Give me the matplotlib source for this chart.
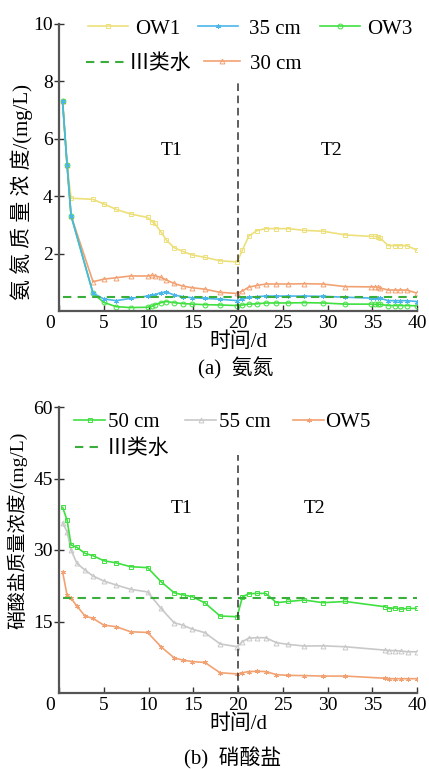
import matplotlib
matplotlib.use("Agg")
import matplotlib.pyplot as plt
import matplotlib.transforms as mtransforms

plt.rcParams['font.family'] = ['Liberation Serif', 'Noto Sans CJK SC', 'DejaVu Sans']
plt.rcParams['axes.unicode_minus'] = False

# ---------------- data (a) ammonia nitrogen ----------------
t_a = [0.4, 0.9, 1.35, 3.8, 5.0, 6.4, 8.0, 9.9, 10.4, 10.7, 11.4, 12.0, 12.85, 13.8,
       14.9, 16.3, 18.0, 19.9, 20.5, 21.2, 22.1, 23.1, 24.2, 25.6, 27.4, 29.5, 32.0,
       34.9, 35.3, 35.6, 35.9, 36.8, 37.5, 38.1, 38.85, 40.0]
ow1 = [7.3, 5.1, 3.93, 3.89, 3.73, 3.54, 3.38, 3.26, 3.11, 3.05, 2.75, 2.47, 2.21, 2.08,
       1.95, 1.87, 1.75, 1.71, 2.13, 2.61, 2.80, 2.87, 2.87, 2.87, 2.81, 2.78, 2.65,
       2.60, 2.60, 2.58, 2.53, 2.28, 2.28, 2.28, 2.28, 2.12]
cm35 = [7.3, 5.1, 3.32, 0.62, 0.42, 0.36, 0.44, 0.52, 0.56, 0.57, 0.64, 0.66, 0.56, 0.50,
        0.46, 0.44, 0.41, 0.36, 0.41, 0.48, 0.50, 0.52, 0.52, 0.52, 0.52, 0.51, 0.48,
        0.45, 0.44, 0.44, 0.44, 0.36, 0.36, 0.36, 0.36, 0.33]
ow3 = [7.3, 5.1, 3.32, 0.62, 0.30, 0.15, 0.12, 0.13, 0.17, 0.22, 0.29, 0.33, 0.29, 0.26,
       0.24, 0.22, 0.21, 0.19, 0.21, 0.24, 0.25, 0.28, 0.28, 0.28, 0.29, 0.28, 0.24,
       0.24, 0.23, 0.23, 0.23, 0.19, 0.19, 0.19, 0.19, 0.18]
cm30 = [7.3, 5.1, 3.32, 1.02, 1.11, 1.16, 1.22, 1.22, 1.24, 1.23, 1.17, 1.08, 0.96, 0.87,
        0.81, 0.76, 0.65, 0.61, 0.70, 0.83, 0.89, 0.94, 0.94, 0.94, 0.95, 0.94, 0.85,
        0.84, 0.84, 0.83, 0.80, 0.73, 0.73, 0.73, 0.73, 0.62]
std_a = 0.5

# ---------------- data (b) nitrate ----------------
t_b = [0.4, 0.9, 1.35, 2.0, 2.9, 3.8, 5.0, 6.4, 8.0, 9.9, 11.4, 12.85, 13.8, 14.9, 16.3,
       18.0, 19.9, 20.5, 21.2, 22.1, 23.1, 24.3, 25.6, 27.4, 29.5, 32.0, 36.4, 36.9,
       37.5, 38.2, 38.95, 40.0]
cm50 = [38.95, 36.3, 31.05, 30.56, 29.3, 28.8, 27.75, 27.3, 26.5, 26.3, 23.35, 21.05,
        20.6, 20.2, 18.9, 16.15, 16.0, 20.2, 20.8, 20.9, 20.9, 18.95, 19.2, 19.5, 18.95,
        19.2, 18.1, 17.7, 17.85, 17.6, 17.75, 17.75]
cm55 = [35.7, 33.85, 30.0, 27.2, 25.8, 24.55, 23.5, 22.65, 21.75, 21.2, 17.75, 14.75,
        14.25, 13.4, 12.65, 10.3, 9.7, 10.8, 11.5, 11.6, 11.6, 10.55, 10.2, 9.85, 9.9,
        9.7, 9.0, 8.9, 8.9, 8.8, 8.65, 8.65]
ow5 = [25.45, 20.55, 19.85, 18.25, 16.15, 15.65, 14.25, 13.9, 12.85, 12.7, 9.7, 7.4,
       6.9, 6.6, 6.4, 4.25, 4.0, 4.25, 4.5, 4.55, 4.5, 3.85, 3.7, 3.65, 3.55, 3.55, 3.1,
       3.0, 3.0, 3.0, 3.0, 3.0]
std_b = 20.0

xticks = [0, 5, 10, 15, 20, 25, 30, 35, 40]
yticks_a = [2, 4, 6, 8, 10]
yticks_b = [15, 30, 45, 60]

C_YEL = '#EDE07A'
C_BLU = '#4BB6EA'
C_GRN = '#3FE03F'
C_ORG = '#F2A272'
C_GRY = '#C8C8C8'
C_STD = '#3AAE3A'
AST = (6, 2, 0)

W, H = 429, 769
fig = plt.figure(figsize=(W/100, H/100), dpi=100)
ax1 = fig.add_axes([59/W, 1-311/H, 358/W, 287/H])
ax2 = fig.add_axes([59/W, 1-693/H, 358/W, 286/H])


def style(ax, ymax, yticks):
    ax.set_xlim(0, 40)
    ax.set_ylim(0, ymax)
    for s in ['top', 'right']:
        ax.spines[s].set_visible(False)
    for s in ['left', 'bottom']:
        ax.spines[s].set_color('#555555')
        ax.spines[s].set_linewidth(1.6)
    ax.set_xticks(xticks)
    ax.set_xticklabels([str(v) for v in xticks])
    ax.set_yticks(yticks)
    ax.set_yticklabels([str(v) for v in yticks])
    ax.tick_params(axis='y', direction='inout', length=7, width=1.0, labelsize=14,
                   pad=1, color='#333333')
    ax.tick_params(axis='x', direction='in', length=4, width=1.0, labelsize=14,
                   pad=3, color='#333333')
    lab0 = ax.get_xticklabels()[0]
    lab0.set_transform(lab0.get_transform() +
                       mtransforms.ScaledTranslation(-9/100, 0, fig.dpi_scale_trans))


def leg(handle, label, x_px, y_px, hl, pad):
    fig.legend([handle], [label], loc='center left',
               bbox_to_anchor=(x_px/W, 1-y_px/H), frameon=False, fontsize=15,
               borderpad=0, borderaxespad=0, handlelength=hl, handletextpad=pad,
               numpoints=1)


kw = dict(lw=1.2, ms=3.5, mfc='none', mew=0.7)

# ---- (a)
l_ow1, = ax1.plot(t_a, ow1, color=C_YEL, marker='s', **kw)
l_30, = ax1.plot(t_a, cm30, color=C_ORG, marker='^', **kw)
l_ow3, = ax1.plot(t_a, ow3, color=C_GRN, marker='o', **kw)
l_35, = ax1.plot(t_a, cm35, color=C_BLU, marker=AST, **kw)
l_std, = ax1.plot([t_a[0], 40], [std_a, std_a], color=C_STD, ls=(0, (4, 3)), lw=1.5)
ax1.plot([20, 20], [0, 8], color='#333333', ls=(0, (5, 3)), lw=1.1)
style(ax1, 10, yticks_a)
ax1.text(12.6, 5.6, 'T1', fontsize=14, ha='center', va='center')
ax1.text(30.5, 5.6, 'T2', fontsize=14, ha='center', va='center')
ax1.set_xlabel('时间/d', fontsize=15, labelpad=0)
ax1.set_ylabel('氨 氮 质 量 浓 度/(mg/L)', fontsize=15)
ax1.yaxis.set_label_coords(-0.073, 0.415)

leg(l_ow1, 'OW1', 88, 29, 1.92, 0.34)
leg(l_35, '35 cm', 198, 29, 1.92, 0.55)
leg(l_ow3, 'OW3', 320, 29, 1.92, 0.34)
leg(l_std, 'Ⅲ类水', 86, 64, 1.9, 0.15)
leg(l_30, '30 cm', 204, 64, 1.75, 0.45)
fig.text(236/W, 1-368/H, '(a)  氨氮', fontsize=15, ha='center', va='center')

# ---- (b)
l_ow5, = ax2.plot(t_b, ow5, color=C_ORG, marker=AST, **kw)
l_55, = ax2.plot(t_b, cm55, color=C_GRY, marker='^', **kw)
l_50, = ax2.plot(t_b, cm50, color=C_GRN, marker='s', **kw)
l_std2, = ax2.plot([t_b[0], 40], [std_b, std_b], color=C_STD, ls=(0, (4, 3)), lw=1.5)
ax2.plot([20, 20], [0, 50], color='#333333', ls=(0, (5, 3)), lw=1.1)
style(ax2, 60, yticks_b)
ax2.text(13.7, 38.8, 'T1', fontsize=14, ha='center', va='center')
ax2.text(28.6, 38.8, 'T2', fontsize=14, ha='center', va='center')
ax2.set_xlabel('时间/d', fontsize=15, labelpad=0)
ax2.set_ylabel('硝酸盐质量浓度/(mg/L)', fontsize=14)
ax2.yaxis.set_label_coords(-0.089, 0.57)

leg(l_50, '50 cm', 74, 422, 1.5, 0.15)
leg(l_55, '55 cm', 185, 422, 1.5, 0.15)
leg(l_ow5, 'OW5', 293, 422, 1.5, 0.02)
leg(l_std2, 'Ⅲ类水', 75, 449, 1.25, 0.25)
fig.text(233/W, 1-758/H, '(b)  硝酸盐', fontsize=15, ha='center', va='center')

fig.savefig('out.png', dpi=100)
